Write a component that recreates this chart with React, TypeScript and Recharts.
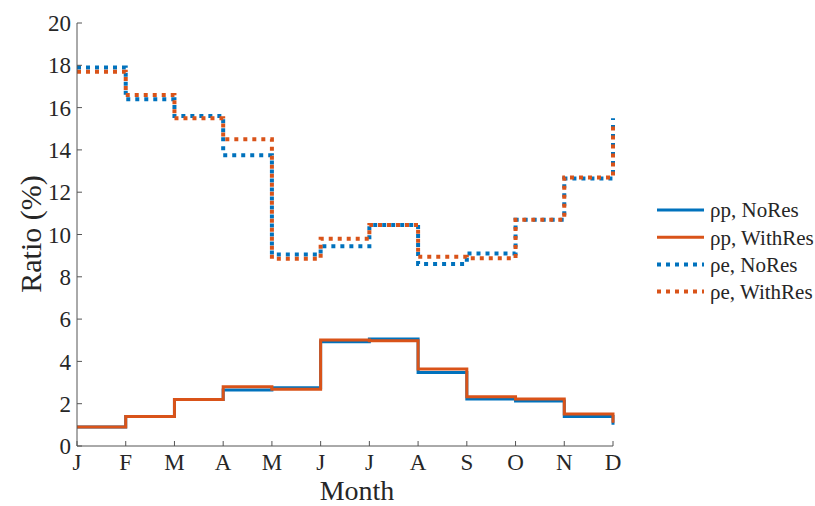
import { LineChart, Line, XAxis, YAxis, Legend } from "recharts";

const months = ["J", "F", "M", "A", "M", "J", "J", "A", "S", "O", "N", "D"];
const rhoPNoRes = [0.9, 1.4, 2.2, 2.65, 2.75, 4.93, 5.06, 3.48, 2.22, 2.13, 1.39, 1.0];
const rhoPWithRes = [0.9, 1.4, 2.2, 2.8, 2.68, 5.01, 4.98, 3.64, 2.33, 2.22, 1.51, 1.1];
const rhoENoRes = [17.9, 16.4, 15.6, 13.75, 9.05, 9.45, 10.45, 8.6, 9.1, 10.7, 12.65, 15.5];
const rhoEWithRes = [17.7, 16.6, 15.5, 14.5, 8.85, 9.8, 10.45, 8.95, 8.88, 10.7, 12.7, 15.3];
const yTicks = [0, 2, 4, 6, 8, 10, 12, 14, 16, 18, 20];

const BLUE = "#0072BD";
const ORANGE = "#D95319";
const AXIS = "#555";
const TEXT = "#262626";
const FONT = "Liberation Serif";

const data = months.map((m, i) => ({
  x: i + 1,
  pNo: rhoPNoRes[i],
  pWith: rhoPWithRes[i],
  eNo: rhoENoRes[i],
  eWith: rhoEWithRes[i],
}));

const legendItems = [
  { label: "ρp, NoRes", color: BLUE, dash: undefined },
  { label: "ρp, WithRes", color: ORANGE, dash: undefined },
  { label: "ρe, NoRes", color: BLUE, dash: "4 5" },
  { label: "ρe, WithRes", color: ORANGE, dash: "4 5" },
];

function renderLegend() {
  return (
    <svg width={170} height={115}>
      {legendItems.map((it, i) => (
        <g key={it.label} transform={`translate(0, ${15 + i * 27.2})`}>
          <line
            x1={5}
            x2={52}
            y1={0}
            y2={0}
            stroke={it.color}
            strokeWidth={it.dash ? 4 : 3}
            strokeDasharray={it.dash}
          />
          <text x={58} y={0} dy="0.35em" fontSize={21} fontFamily={FONT} fill={TEXT}>
            {it.label}
          </text>
        </g>
      ))}
    </svg>
  );
}

export default function App() {
  return (
    <div style={{ width: 815, height: 506, position: "relative", background: "#fff" }}>
      <style>{`body{margin:0}`}</style>
      <LineChart
        width={815}
        height={506}
        data={data}
        margin={{ top: 23, right: 202, bottom: 0, left: 27 }}
      >
        <XAxis
          dataKey="x"
          type="number"
          domain={[1, 12]}
          ticks={data.map((d) => d.x)}
          tickFormatter={(v: number) => months[v - 1]}
          height={60}
          stroke={AXIS}
          tickSize={-5}
          tickMargin={13}
          tick={{ fill: TEXT, fontSize: 23, fontFamily: FONT }}
          label={{
            content: () => (
              <text x={357} y={500} textAnchor="middle" fontSize={28} fontFamily={FONT} fill={TEXT}>
                Month
              </text>
            ),
          }}
        />
        <YAxis
          type="number"
          domain={[0, 20]}
          ticks={yTicks}
          width={50}
          stroke={AXIS}
          tickSize={-5}
          tickMargin={11}
          tick={{ fill: TEXT, fontSize: 23, fontFamily: FONT }}
          label={{
            content: () => (
              <text
                x={41}
                y={234}
                transform="rotate(-90 41 234)"
                textAnchor="middle"
                fontSize={30}
                fontFamily={FONT}
                fill={TEXT}
              >
                Ratio (%)
              </text>
            ),
          }}
        />
        <Legend
          layout="horizontal"
          verticalAlign="middle"
          align="center"
          content={renderLegend}
          wrapperStyle={{ left: 652, top: 195, width: 170, height: 115 }}
        />
        <Line type="stepAfter" dataKey="pNo" stroke={BLUE} strokeWidth={3} dot={false} isAnimationActive={false} />
        <Line type="stepAfter" dataKey="pWith" stroke={ORANGE} strokeWidth={3} dot={false} isAnimationActive={false} />
        <Line
          type="stepAfter"
          dataKey="eNo"
          stroke={BLUE}
          strokeWidth={4}
          strokeDasharray="4 5"
          dot={false}
          isAnimationActive={false}
        />
        <Line
          type="stepAfter"
          dataKey="eWith"
          stroke={ORANGE}
          strokeWidth={4}
          strokeDasharray="4 5"
          dot={false}
          isAnimationActive={false}
        />
      </LineChart>
    </div>
  );
}
